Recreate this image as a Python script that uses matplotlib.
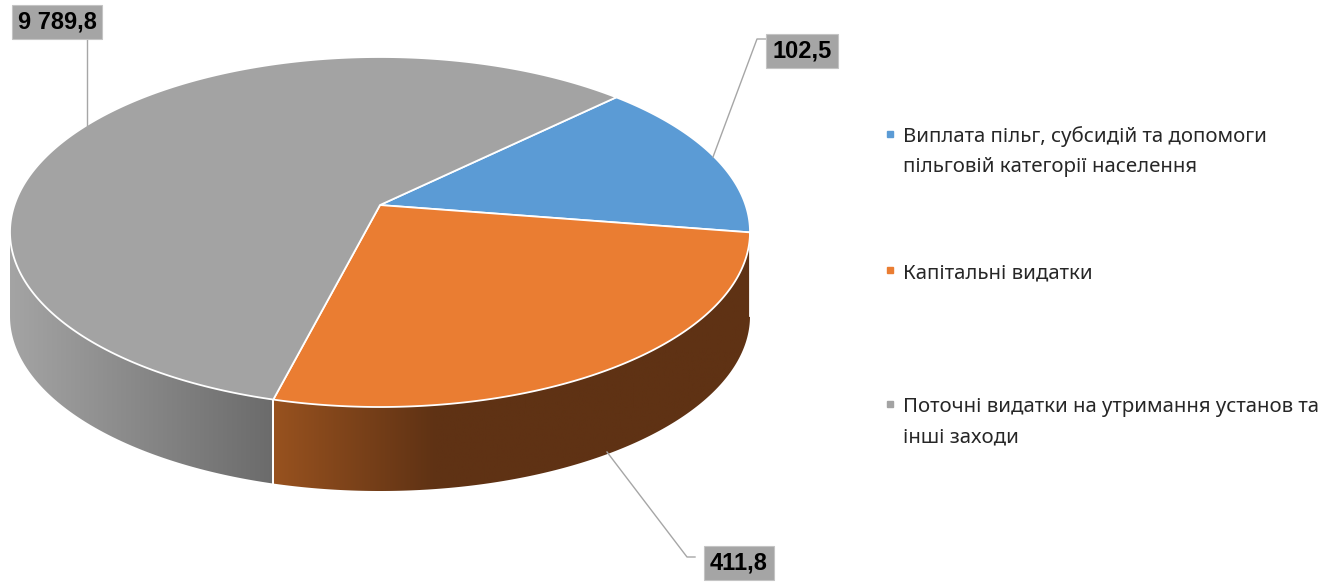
import matplotlib
matplotlib.use('Agg')
import matplotlib.pyplot as plt
import numpy as np
from matplotlib.colors import LinearSegmentedColormap
from matplotlib.patches import Polygon

# slice shares as they appear in the picture (percent of the circle)
shares = [14.8, 26.5, 58.7]
value_labels = ['102,5', '411,8', '9 789,8']
legend_labels = ['Виплата пільг, субсидій та допомоги\nпільговій категорії населення',
                 'Капітальні видатки',
                 'Поточні видатки на утримання установ та\nінші заходи']
colors = ['#5b9bd5', '#ea7d32', '#a3a3a3']
side_cols = [['#3f6f9a', '#2e5377'],
             [(0.0, '#98521f'), (0.34, '#5f3214'), (1.0, '#5f3214')],
             [(0.0, '#a4a4a4'), (1.0, '#6b6b6b')]]

W, H = 1341, 584
fig = plt.figure(figsize=(W/100, H/100), dpi=100)

# ellipse geometry in pixels
cx, cy, rx, ry, depth = 380, 232, 370, 175, 84
px0, px1 = 0, 765
py0, py1 = 50, 500
ax = fig.add_axes([px0/W, 1-py1/H, (px1-px0)/W, (py1-py0)/H])
wedges, _ = ax.pie(shares, colors=colors, startangle=44.3, counterclock=False,
                   wedgeprops=dict(edgecolor='white', linewidth=1.3))
d = depth/ry

# perspective tilt: centre of the disc appears above the ellipse centre
k = 0.154
s = np.sqrt(1 - k*k)

def persp(x, y):
    return x*s/(1 + k*y), (y + k)/(1 + k*y)

def screen_angle(t):
    r = np.radians(t)
    x, y = persp(np.cos(r), np.sin(r))
    return np.degrees(np.arctan2(y, x)) % 360

# redraw each wedge of the pie with the perspective applied
for i, w in enumerate(wedges):
    th = np.radians(np.linspace(w.theta1, w.theta2, 300))
    px = np.r_[w.center[0], w.center[0] + w.r*np.cos(th)]
    py = np.r_[w.center[1], w.center[1] + w.r*np.sin(th)]
    x, y = persp(px, py)
    ax.add_patch(Polygon(np.c_[x, y], closed=True, facecolor=colors[i],
                         edgecolor='white', lw=1.3, zorder=2))
    w.set_visible(False)

# side walls of the 3D pie
for i, w in enumerate(wedges):
    a1 = screen_angle(w.theta1)
    a2 = screen_angle(w.theta2)
    if a2 < a1:
        a2 += 360
    lo, hi = max(a1, 180), min(a2, 360)
    if hi - lo < 0.5:
        continue
    th = np.radians(np.linspace(lo, hi, 200))
    xs = np.cos(th)
    ys = np.sin(th)
    verts = np.concatenate([np.c_[xs, ys], np.c_[xs[::-1], ys[::-1]-d]])
    poly = Polygon(verts, closed=True, facecolor='none', edgecolor='none')
    ax.add_patch(poly)
    cm = LinearSegmentedColormap.from_list('s%d' % i, side_cols[i])
    x0, x1 = xs.min(), xs.max()
    if i == 1:
        x1 = 1.0
    grad = np.linspace(0, 1, 256).reshape(1, -1)
    im = ax.imshow(grad, cmap=cm, aspect='auto', extent=[x0, x1, -1-d, 0.1],
                   zorder=0)
    im.set_clip_path(poly)
    # white seam between slices on the side
    for t in (lo, hi):
        if 180 < t < 360:
            r = np.radians(t)
            ax.plot([np.cos(r)]*2, [np.sin(r), np.sin(r)-d], color='white', lw=1.3, zorder=3)

ax.set_aspect('auto')
ax.set_xlim(-1-(cx-rx-px0)/rx, 1+(px1-cx-rx)/rx)
ax.set_ylim(-1-(py1-cy-ry)/ry, 1+(cy-ry-py0)/ry)
ax.axis('off')

# overlay in pixel coordinates for labels and legend
ov = fig.add_axes([0, 0, 1, 1])
ov.set_xlim(0, W)
ov.set_ylim(H, 0)
ov.axis('off')
ov.patch.set_alpha(0)

lc = '#a6a6a6'
ov.plot([87, 87], [40, 127], color=lc, lw=1)
ov.plot([766, 757, 713], [39, 39, 157], color=lc, lw=1)
ov.plot([695, 687, 607], [557, 557, 452], color=lc, lw=1)

box = dict(boxstyle='square,pad=0.25', facecolor='#a5a5a5', edgecolor='#c4c4c4', lw=0.8)
lab_pos = [(802, 51), (739, 563), (57, 22)]
for (x, y), t in zip(lab_pos, value_labels):
    ov.text(x, y, t, ha='center', va='center', fontsize=17, fontweight='bold',
            family='Liberation Sans', color='black', bbox=box)

base_y = [142, 278, 412]
for c, lab, by in zip(colors, legend_labels, base_y):
    ov.plot([890], [by-8], marker='s', ms=5, color=c, mec=c)
    for k2, line in enumerate(lab.split('\n')):
        ov.text(903, by + 30*k2, line, ha='left', va='baseline', fontsize=14.7,
                family='Noto Sans', color='#262626')

fig.savefig('out.png', dpi=100)
